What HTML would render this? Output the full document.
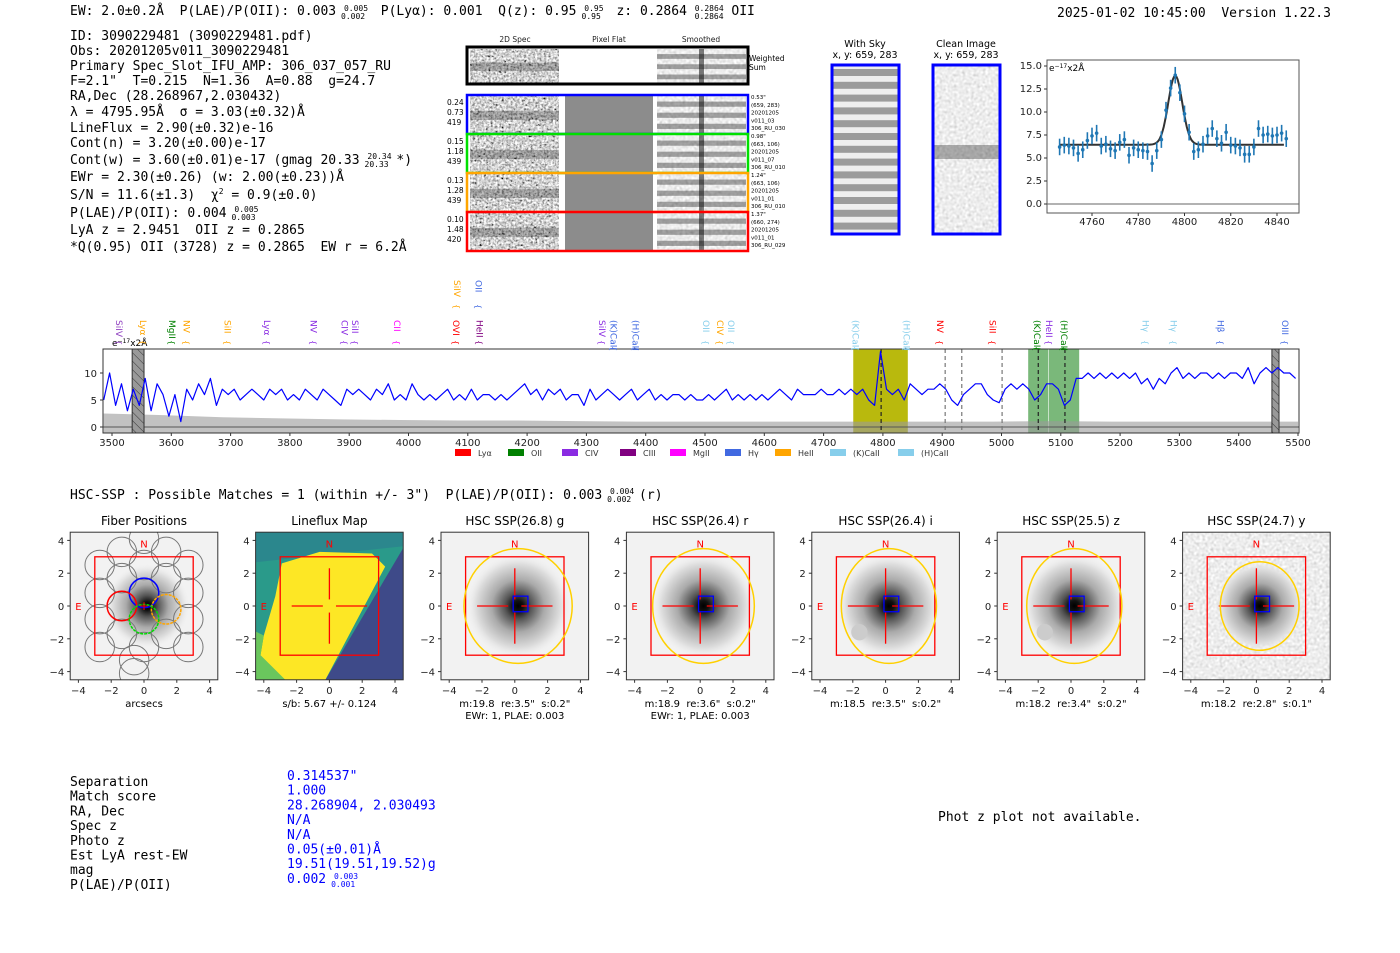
<!DOCTYPE html>
<html><head><meta charset="utf-8">
<style>
html,body{margin:0;padding:0;background:#fff;width:1400px;height:953px;overflow:hidden}
svg{display:block}
text{white-space:pre}
.mono{font-family:"DejaVu Sans Mono","Liberation Mono",monospace;font-size:13px;fill:#000}
.sans{font-family:"DejaVu Sans","Liberation Sans",sans-serif}
.tick{font-family:"DejaVu Sans","Liberation Sans",sans-serif;font-size:10px;fill:#222}
</style></head>
<body>
<svg id="root" width="1400" height="953" viewBox="0 0 1400 953" xmlns="http://www.w3.org/2000/svg" xml:space="preserve">
<defs>
<filter id="noise" x="0" y="0" width="100%" height="100%"><feTurbulence type="fractalNoise" baseFrequency="0.45" numOctaves="2" seed="3"/><feColorMatrix type="matrix" values="0.33 0.33 0.33 0 0  0.33 0.33 0.33 0 0  0.33 0.33 0.33 0 0  0 0 0 0 1"/><feComponentTransfer><feFuncR type="linear" slope="3" intercept="-0.85"/><feFuncG type="linear" slope="3" intercept="-0.85"/><feFuncB type="linear" slope="3" intercept="-0.85"/></feComponentTransfer></filter>
<filter id="noise2" x="0" y="0" width="100%" height="100%"><feTurbulence type="fractalNoise" baseFrequency="0.35" numOctaves="1" seed="7"/><feColorMatrix type="matrix" values="0.33 0.33 0.33 0 0  0.33 0.33 0.33 0 0  0.33 0.33 0.33 0 0  0 0 0 0 1"/><feComponentTransfer><feFuncR type="linear" slope="1" intercept="0.35"/><feFuncG type="linear" slope="1" intercept="0.35"/><feFuncB type="linear" slope="1" intercept="0.35"/></feComponentTransfer></filter>
<radialGradient id="blob"><stop offset="0" stop-color="#000"/><stop offset="0.1" stop-color="#111"/><stop offset="0.25" stop-color="#555"/><stop offset="0.5" stop-color="#aaa"/><stop offset="0.8" stop-color="#ddd"/><stop offset="1" stop-color="#f2f2f2" stop-opacity="0"/></radialGradient>
<pattern id="hatch" width="6" height="6" patternUnits="userSpaceOnUse" patternTransform="rotate(-45)"><rect width="6" height="6" fill="#999"/><line x1="0" y1="0" x2="0" y2="6" stroke="#333" stroke-width="1"/></pattern>
</defs>

<text class="mono" x="70" y="15">EW: 2.0±0.2Å  P(LAE)/P(OII): 0.003 <tspan font-size="8" dy="-4">0.005</tspan><tspan font-size="8" dx="-27" dy="8">0.002</tspan><tspan dy="-4">  P(Lyα): 0.001  Q(z): 0.95 </tspan><tspan font-size="8" dy="-4">0.95</tspan><tspan font-size="8" dx="-22" dy="8">0.95</tspan><tspan dy="-4">  z: 0.2864 </tspan><tspan font-size="8" dy="-4">0.2864</tspan><tspan font-size="8" dx="-29" dy="8">0.2864</tspan><tspan dy="-4"> OII</tspan></text>
<text class="mono" x="1057" y="17">2025-01-02 10:45:00  Version 1.22.3</text>

<g id="info">
<text class="mono" x="70" y="40">ID: 3090229481 (3090229481.pdf)</text>
<text class="mono" x="70" y="55">Obs: 20201205v011_3090229481</text>
<text class="mono" x="70" y="70">Primary Spec_Slot_IFU_AMP: 306_037_057_RU</text>
<text class="mono" x="70" y="85">F=2.1"  T=0.215  N=1.36  A=0.88  g=24.7</text>
<text class="mono" x="70" y="100">RA,Dec (28.268967,2.030432)</text>
<text class="mono" x="70" y="116">λ = 4795.95Å  σ = 3.03(±0.32)Å</text>
<text class="mono" x="70" y="132">LineFlux = 2.90(±0.32)e-16</text>
<text class="mono" x="70" y="147">Cont(n) = 3.20(±0.00)e-17</text>
<text class="mono" x="70" y="164">Cont(w) = 3.60(±0.01)e-17 (gmag 20.33 <tspan font-size="8" dy="-5">20.34</tspan><tspan font-size="8" dx="-27" dy="8">20.33</tspan><tspan dy="-3"> *)</tspan></text>
<text class="mono" x="70" y="181">EWr = 2.30(±0.26) (w: 2.00(±0.23))Å</text>
<text class="mono" x="70" y="199">S/N = 11.6(±1.3)  χ<tspan font-size="8" dy="-5">2</tspan><tspan dy="5"> = 0.9(±0.0)</tspan></text>
<text class="mono" x="70" y="217">P(LAE)/P(OII): 0.004 <tspan font-size="8" dy="-5">0.005</tspan><tspan font-size="8" dx="-27" dy="8">0.003</tspan></text>
<text class="mono" x="70" y="234">LyA z = 2.9451  OII z = 0.2865</text>
<text class="mono" x="70" y="251">*Q(0.95) OII (3728) z = 0.2865  EW r = 6.2Å</text>
</g>

<g id="spec2d"></g>
<g id="skycut"></g>
<g id="fit"></g>
<g id="spec"></g>

<text class="mono" x="70" y="499">HSC-SSP : Possible Matches = 1 (within +/- 3")  P(LAE)/P(OII): 0.003 <tspan font-size="8" dy="-5">0.004</tspan><tspan font-size="8" dx="-27" dy="8">0.002</tspan><tspan dy="-3"> (r)</tspan></text>

<g id="panels"></g>

<g id="table"></g>
<text class="mono" x="938" y="821">Phot z plot not available.</text>
</svg>

<script>
// ---------- data ----------
const specStart = 3486, specStep = 10;
const specFlux = [
5,10,4,8,3,7,4,9,3,8,
6,2,6,1,7,5,8,6,9,4,
7,6,7,5,6,7,6,5,7,6,
7,5,6,5,7,6,5,7,6,5,
4,7,6,7,6,5,7,6,8,5,
6,5,8,6,5,6,5,6,7,5,
6,5,7,5,6,6,5,6,5,6,
7,8,6,7,5,7,6,7,5,6,
6,4,7,5,6,7,6,5,6,7,
5,6,7,5,6,5,6,6,5,6,
5,5,6,5,6,7,5,6,5,6,
5,6,5,6,7,6,5,7,6,6,
6,7,6,6,7,6,7,6,7,5,
4,14,7,6,7,5,8,7,6,7,
7,8,7,5,4,6,7,8,8,6,
5,4.5,7,8,7,8,7,5,6,8,
8,7,4,5,9,9,10,9,10,9,
10,9,10,9,10,8,9,7,9,8,
10,11,9,10,9,10,10,9,10,9,
10,10,9,11,8,10,11,10,11,10,
10,9];
const errStart = 3486, errStep = 100;
const errFlux = [2.5,2.2,1.8,1.6,1.4,1.3,1.2,1.2,1.1,1.0,1.0,1.0,1.0,1.0,1.0,1.0,1.1,1.0,1.0,1.0,1.0];
const specXTicks = [3500,3600,3700,3800,3900,4000,4100,4200,4300,4400,4500,4600,4700,4800,4900,5000,5100,5200,5300,5400,5500];
const specYTicks = [0,5,10];
const bandLo = [4750,5045,5080];
const bandHi = [4842,5079,5131];
const bandColor = ['#b5b500','#4ea04e','#4ea04e'];
const dashWave = [4797,4905,4933,5001,5062,5107];
const dashColor = ['#222','#777','#777','#777','#222','#222'];
const lineNames = ['SiIV','Lyα','MgII','NV','SiII','Lyα','NV','CIV','SiII','CII','OVI','SiIV','OII','HeII','SiIV','(K)CaII','(H)CaII','OII','CIV','OII','(K)CaII','(H)CaII','NV','SiII','(K)CaII','HeII','(H)CaII','Hγ','Hγ','Hβ','OIII'];
const lineWave = [3512,3552,3601,3626,3695,3761,3840,3892,3910,3981,4080,4082,4118,4120,4326,4346,4383,4502,4525,4544,4754,4840,4896,4985,5060,5080,5105,5243,5290,5369,5478];
const lineColor = ['#9040c0','#ffa500','#008000','#ffa500','#ffa500','#8a2be2','#8a2be2','#8a2be2','#8a2be2','#ff00ff','#ff0000','#ffa500','#4169e1','#800080','#8a2be2','#4169e1','#4169e1','#87ceeb','#ffa500','#87ceeb','#87ceeb','#87ceeb','#ff0000','#ff0000','#008000','#8a2be2','#008000','#87ceeb','#87ceeb','#4169e1','#4169e1'];
const lineHigh = [0,0,0,0,0,0,0,0,0,0,0,1,1,0,0,0,0,0,0,0,0,0,0,0,0,0,0,0,0,0,0];
const legendNames = ['Lyα','OII','CIV','CIII','MgII','Hγ','HeII','(K)CaII','(H)CaII'];
const legendColors = ['#ff0000','#008000','#8a2be2','#800080','#ff00ff','#4169e1','#ffa500','#87ceeb','#87ceeb'];

const fitWave = [];
const fitFlux = [6.2,6.4,6.3,6.1,5.5,5.9,6.9,7.4,7.7,6.3,6.5,6.0,5.8,6.7,7.0,5.3,6.1,5.9,5.8,5.7,4.4,5.8,7.0,10.2,12.6,14.0,12.1,9.8,7.8,5.7,5.9,6.5,7.4,8.2,7.1,6.6,7.8,6.4,6.3,6.1,5.4,5.4,6.2,8.2,7.5,7.6,7.4,7.5,7.7,7.1];
for(let i=0;i<fitFlux.length;i++) fitWave.push(4746+2*i);
const fitErr = 0.9;
const fitCont = 6.45, fitAmp = 7.5, fitMu = 4796, fitSigma = 3.03;
const fitXTicks = [4760,4780,4800,4820,4840];
const fitYTicks = [0,2.5,5,7.5,10,12.5,15];

const panelTitles = ['Fiber Positions','Lineflux Map','HSC SSP(26.8) g','HSC SSP(26.4) r','HSC SSP(26.4) i','HSC SSP(25.5) z','HSC SSP(24.7) y'];
const panelLabel1 = ['arcsecs','s/b: 5.67 +/- 0.124','m:19.8  re:3.5"  s:0.2"','m:18.9  re:3.6"  s:0.2"','m:18.5  re:3.5"  s:0.2"','m:18.2  re:3.4"  s:0.2"','m:18.2  re:2.8"  s:0.1"'];
const panelLabel2 = ['','','EWr: 1, PLAE: 0.003','EWr: 1, PLAE: 0.003','','',''];
const ellRx = [0,0,3.3,3.1,2.9,2.9,2.4];
const ellRy = [0,0,3.5,3.5,3.5,3.5,2.7];
const panelTicks = [-4,-2,0,2,4];

const tableLabels = ['Separation','Match score','RA, Dec','Spec z','Photo z','Est LyA rest-EW','mag','P(LAE)/P(OII)'];
const tableValues = ['0.314537"','1.000','28.268904, 2.030493','N/A','N/A','0.05(±0.01)Å','19.51(19.51,19.52)g','0.002 '];

const NS='http://www.w3.org/2000/svg';
function mk(parent, tag, attrs, text){
  const e=document.createElementNS(NS,tag);
  for(const k in attrs) e.setAttribute(k,attrs[k]);
  if(text!==undefined) e.textContent=text;
  parent.appendChild(e); return e;
}

// ---------- 2D spectra ----------
(function(){
  const g=document.getElementById('spec2d');
  const heads=[['2D Spec',515],['Pixel Flat',609],['Smoothed',701]];
  heads.forEach(h=>{const t=mk(g,'text',{x:h[1],y:42,'font-size':7.5,'text-anchor':'middle',class:'sans',fill:'#222'},h[0]);
    
    });
  function strip(y,h,flat){
    mk(g,'rect',{x:470,y:y,width:89,height:h,fill:'#999',filter:'url(#noise)'});
    mk(g,'rect',{x:470,y:y+h*0.4,width:89,height:h*0.25,fill:'#000',opacity:0.25});
    if(flat) mk(g,'rect',{x:563,y:y,width:90,height:h,fill:'#fff'});
    else mk(g,'rect',{x:565,y:y,width:88,height:h,fill:'#8c8c8c'});
    mk(g,'rect',{x:657,y:y,width:89,height:h,fill:'#aaa',filter:'url(#noise2)'});
    for(let k=0;k<3;k++) mk(g,'rect',{x:657,y:y+h*(0.15+0.3*k),width:89,height:h*0.14,fill:'#222',opacity:0.4});
    mk(g,'rect',{x:699,y:y,width:5,height:h,fill:'#000',opacity:0.5});
  }
  strip(49,34,true);
  const wb=mk(g,'rect',{x:467,y:47,width:281,height:37,fill:'none',stroke:'#000','stroke-width':3});
  
  
  mk(g,'text',{x:749,y:61,'font-size':7.5,class:'sans'},'Weighted');
  mk(g,'text',{x:749,y:70,'font-size':7.5,class:'sans'},'Sum');
  const cols=['#0000ff','#00e000','#ffa500','#ff0000'];
  const ys=[95,134,173,212];
  const lt=[['0.24','0.73','419'],['0.15','1.18','439'],['0.13','1.28','439'],['0.10','1.48','420']];
  const rt=[['0.53"','(659, 283)','20201205','v011_03','306_RU_030'],['0.98"','(663, 106)','20201205','v011_07','306_RU_010'],['1.24"','(663, 106)','20201205','v011_01','306_RU_010'],['1.37"','(660, 274)','20201205','v011_01','306_RU_029']];
  ys.forEach((y,i)=>{
    strip(y+1,37,false);
    const b=mk(g,'rect',{x:467,y:y,width:281,height:39,fill:'none',stroke:cols[i],'stroke-width':2.5});
    
    
    lt[i].forEach((s,j)=>mk(g,'text',{x:447,y:y+10+j*10,'font-size':7.5,class:'sans'},s));
    rt[i].forEach((s,j)=>mk(g,'text',{x:751,y:y+4+j*7.8,'font-size':5.5,class:'sans'},s));
  });
})();

// ---------- sky cutouts ----------
(function(){
  const g=document.getElementById('skycut');
  mk(g,'text',{x:865,y:47,'font-size':9.5,class:'sans','text-anchor':'middle'},'With Sky');
  mk(g,'text',{x:865,y:58,'font-size':9.5,class:'sans','text-anchor':'middle'},'x, y: 659, 283');
  mk(g,'text',{x:966,y:47,'font-size':9.5,class:'sans','text-anchor':'middle'},'Clean Image');
  mk(g,'text',{x:966,y:58,'font-size':9.5,class:'sans','text-anchor':'middle'},'x, y: 659, 283');
  mk(g,'rect',{x:832,y:65,width:67,height:169,fill:'#eee'});
  for(let k=0;k<13;k++) mk(g,'rect',{x:832,y:69+k*12.8,width:67,height:7,fill:'#777',opacity:0.7});
  mk(g,'rect',{x:933,y:65,width:67,height:169,fill:'#bbb',filter:'url(#noise2)'});
  mk(g,'rect',{x:933,y:145,width:67,height:14,fill:'#222',opacity:0.35});
  const a=mk(g,'rect',{x:832,y:65,width:67,height:169,fill:'none',stroke:'#0000ff','stroke-width':3});
  
  
  const b=mk(g,'rect',{x:933,y:65,width:67,height:169,fill:'none',stroke:'#0000ff','stroke-width':3});
  
  
})();

// ---------- fit inset ----------
(function(){
  const g=document.getElementById('fit');
  const L=1047,R=1299,T=60,B=213;
  const X=w=>1092+(w-4760)*(1277-1092)/80;
  const Y=v=>204-v*(204-66)/15;
  mk(g,'rect',{x:L,y:T,width:R-L,height:B-T,fill:'#fff',stroke:'#555','stroke-width':1});
  mk(g,'line',{x1:L,x2:R,y1:Y(0),y2:Y(0),stroke:'#666','stroke-width':1});
  fitXTicks.forEach(t=>{mk(g,'line',{x1:X(t),x2:X(t),y1:B,y2:B+3,stroke:'#333'});
    const e=mk(g,'text',{x:X(t),y:B+12,class:'tick','text-anchor':'middle','font-size':9},String(t));
    
    });
  fitYTicks.forEach(t=>{mk(g,'line',{x1:L-3,x2:L,y1:Y(t),y2:Y(t),stroke:'#333'});
    const e=mk(g,'text',{x:L-5,y:Y(t)+3,class:'tick','text-anchor':'end','font-size':9},t.toFixed(1));
    
    });
  let d='';
  for(let w=4746;w<=4843;w+=0.5){const v=fitCont+fitAmp*Math.exp(-0.5*Math.pow((w-fitMu)/fitSigma,2));d+=(d?'L':'M')+X(w).toFixed(1)+' '+Y(v).toFixed(1);}
  const fl=mk(g,'path',{d:d,fill:'none',stroke:'#333','stroke-width':2});
  
  
  fitWave.forEach((w,i)=>{
    const ln=mk(g,'line',{x1:X(w),x2:X(w),y1:Y(fitFlux[i]-fitErr),y2:Y(fitFlux[i]+fitErr),stroke:'#1f77b4','stroke-width':1.6});
    
    
    const c=mk(g,'circle',{cx:X(w),cy:Y(fitFlux[i]),r:1.8,fill:'#1f77b4'});
    
    
  });
  const u=mk(g,'text',{x:L+2,y:T+11,'font-size':9,class:'sans'},'e');
  mk(u,'tspan',{'font-size':6,dy:-3},'−17');
  mk(u,'tspan',{dy:3},'x2Å');
})();

// ---------- main spectrum ----------
(function(){
  const g=document.getElementById('spec');
  const L=103,R=1299,T=349,B=433;
  const X=w=>112+(w-3500)*(1298-112)/2000;
  const Y=v=>427-v*5.4;
  mk(g,'rect',{x:L,y:T,width:R-L,height:B-T,fill:'#fff'});
  bandLo.forEach((lo,i)=>{const r=mk(g,'rect',{x:X(lo),y:T,width:X(bandHi[i])-X(lo),height:B-T,fill:bandColor[i],opacity:i?0.75:0.95});
    
    });
  let d='M'+X(errStart).toFixed(1)+' '+Y(0);
  errFlux.forEach((v,i)=>{d+='L'+X(errStart+i*errStep).toFixed(1)+' '+Y(v).toFixed(1);});
  d+='L'+X(5500)+' '+Y(1)+'L'+X(5500)+' '+B+'L'+X(errStart)+' '+B+'Z';
  const ef=mk(g,'path',{d:d,fill:'#999',opacity:0.6});
  
  
  mk(g,'line',{x1:L,x2:R,y1:Y(0),y2:Y(0),stroke:'#555','stroke-width':1});
  [[3534,3554],[5456,5468]].forEach(p=>{const r=mk(g,'rect',{x:X(p[0]),y:T,width:X(p[1])-X(p[0]),height:B-T,fill:'url(#hatch)',stroke:'#333'});
    
    });
  dashWave.forEach((w,i)=>{const l=mk(g,'line',{x1:X(w),x2:X(w),y1:T,y2:B,stroke:dashColor[i],'stroke-width':1.2,'stroke-dasharray':'4,3'});
    
    });
  let p='';
  specFlux.forEach((v,i)=>{p+=(p?'L':'M')+X(specStart+i*specStep).toFixed(1)+' '+Y(v).toFixed(1);});
  const sl=mk(g,'path',{d:p,fill:'none',stroke:'#0000ff','stroke-width':1.2,'stroke-linejoin':'round'});
  
  
  mk(g,'rect',{x:L,y:T,width:R-L,height:B-T,fill:'none',stroke:'#333','stroke-width':1});
  specXTicks.forEach(t=>{mk(g,'line',{x1:X(t),x2:X(t),y1:B,y2:B+3,stroke:'#333'});
    const e=mk(g,'text',{x:X(t),y:B+13,class:'tick','text-anchor':'middle'},String(t));
    
    });
  specYTicks.forEach(t=>{mk(g,'line',{x1:L-3,x2:L,y1:Y(t),y2:Y(t),stroke:'#333'});
    const e=mk(g,'text',{x:L-6,y:Y(t)+4,class:'tick','text-anchor':'end'},String(t));
    
    });
  const u=mk(g,'text',{x:112,y:346,'font-size':9,class:'sans'},'e');
  mk(u,'tspan',{'font-size':6,dy:-3},'−17');
  mk(u,'tspan',{dy:3},'x2Å');
  lineNames.forEach((n,i)=>{
    const x=X(lineWave[i]);
    const top=lineHigh[i]?280:320;
    const t=mk(g,'text',{x:0,y:0,'font-size':9,class:'sans',fill:lineColor[i],transform:'translate('+(x-3)+','+top+') rotate(90)'},n);
    
    
    mk(g,'text',{x:0,y:0,'font-size':8,class:'sans',fill:lineColor[i],transform:'translate('+(x-3)+','+(top+(lineHigh[i]?24:20)+(n.length>5?6:0))+') rotate(90)'},'{');
  });
  let lx=455;
  const gaps=[53,54,58,50,55,50,55,68,0];
  legendNames.forEach((n,i)=>{
    const r=mk(g,'rect',{x:lx,y:449,width:16,height:7,fill:legendColors[i]});
    
    
    const t=mk(g,'text',{x:lx+23,y:456,'font-size':8,class:'sans',fill:'#333'},n);
    
    
    lx+=gaps[i];
  });
})();

// ---------- imaging panels ----------
(function(){
  const g=document.getElementById('panels');
  const s=16.4, cy=606;
  panelTitles.forEach((title,i)=>{
    const cx=144+i*185.4;
    const L=cx-4.5*s, T=cy-4.5*s, W=9*s;
    const pg=mk(g,'g',{});
    
    
    const clipId='clip'+i;
    const cp=mk(pg,'clipPath',{id:clipId}); mk(cp,'rect',{x:L,y:T,width:W,height:W});
    const ig=mk(pg,'g',{'clip-path':'url(#'+clipId+')'});
    if(i===1){
      mk(ig,'rect',{x:L,y:T,width:W,height:W,fill:'#2a9a8a'});
      mk(ig,'polygon',{points:[[L,T],[L+W,T],[L+W,T+14],[L,T+30]].map(p=>p.join(',')).join(' '),fill:'#2c7f8e',opacity:0.7});
      const P=(u,v)=>(cx+u*s).toFixed(1)+','+(cy-v*s).toFixed(1);
      mk(ig,'polygon',{points:[P(-4,-1.8),P(-3.3,0.6),P(-2.9,2.6),P(-0.6,3.3),P(2.6,3.2),P(3.4,2.4),P(-0.3,-4.6),P(-2.6,-4.6),P(-4.2,-3)].join(' '),fill:'#fde725'});
      mk(ig,'polygon',{points:[P(-4.6,-1.5),P(-4,-1.8),P(-4.2,-3),P(-2.6,-4.6),P(-4.6,-4.6)].join(' '),fill:'#7ad151',opacity:0.8});
      mk(ig,'polygon',{points:[P(4.6,3.7),P(4.6,-4.6),P(-0.3,-4.6)].join(' '),fill:'#3e4a89'});
    } else {
      mk(ig,'rect',{x:L,y:T,width:W,height:W,fill:i===6?'#d8d8d8':'#f2f2f2',filter:i===6?'url(#noise2)':''});
      const rr=i===0?2.6:(i===6?2.8:3.2);
      mk(ig,'circle',{cx:cx+0.2*s,cy:cy,r:rr*s,fill:'url(#blob)'});
      if(i===4||i===5) mk(ig,'circle',{cx:cx-1.6*s,cy:cy+1.6*s,r:0.5*s,fill:'#ccc'});
    }
    if(i===0){
      const fib=[[0,4.1],[-1.35,3.3],[1.35,3.3],[-2.7,2.5],[0,2.5],[2.7,2.5],[-1.35,1.7],[1.35,1.7],[-2.7,0.8],[2.7,0.8],[-2.7,-0.8],[2.7,-0.8],[-1.35,-1.7],[1.35,-1.7],[0,-2.5],[-2.7,-2.5],[2.7,-2.5],[-0.6,-3.3],[-0.6,-4.1]];
      fib.forEach(f=>mk(ig,'circle',{cx:cx+f[0]*s,cy:cy-f[1]*s,r:0.9*s,fill:'none',stroke:'#777','stroke-width':1}));
      [[0,0.8,'#0000ff'],[-1.35,0,'#ff0000'],[1.35,-0.2,'#ffa500'],[0,-0.8,'#00dd00']].forEach(f=>mk(ig,'circle',{cx:cx+f[0]*s,cy:cy-f[1]*s,r:0.9*s,fill:'none',stroke:f[2],'stroke-width':1.5,'stroke-dasharray':f[2]==='#0000ff'||f[2]==='#ff0000'?'':'3,1'}));
      mk(ig,'text',{x:cx,y:cy+4,'font-size':12,fill:'#f00','text-anchor':'middle',class:'sans'},'+');
    }
    mk(pg,'rect',{x:cx-3*s,y:cy-3*s,width:6*s,height:6*s,fill:'none',stroke:'#ff0000','stroke-width':1.3});
    if(i>=1){
      mk(pg,'line',{x1:cx,x2:cx,y1:cy-2.3*s,y2:cy-0.4*s,stroke:'#f00','stroke-width':1.3});
      mk(pg,'line',{x1:cx,x2:cx,y1:cy+0.4*s,y2:cy+2.3*s,stroke:'#f00','stroke-width':1.3});
      mk(pg,'line',{x1:cx-2.3*s,x2:cx-0.4*s,y1:cy,y2:cy,stroke:'#f00','stroke-width':1.3});
      mk(pg,'line',{x1:cx+0.4*s,x2:cx+2.3*s,y1:cy,y2:cy,stroke:'#f00','stroke-width':1.3});
    }
    if(i>=2){
      mk(pg,'rect',{x:cx-0.1*s,y:cy-0.6*s,width:0.9*s,height:0.95*s,fill:'none',stroke:'#0000ff','stroke-width':1.3});
      const el=mk(pg,'ellipse',{cx:cx+0.2*s,cy:cy,rx:ellRx[i]*s,ry:ellRy[i]*s,fill:'none',stroke:'#ffd000','stroke-width':1.5});
      
      
    }
    mk(pg,'text',{x:cx,y:cy-3.8*s+4,'font-size':10,fill:'#f00','text-anchor':'middle',class:'sans'},'N');
    mk(pg,'text',{x:cx-4*s,y:cy+4,'font-size':10,fill:'#f00','text-anchor':'middle',class:'sans'},'E');
    mk(pg,'rect',{x:L,y:T,width:W,height:W,fill:'none',stroke:'#333','stroke-width':1});
    panelTicks.forEach(t=>{
      mk(pg,'line',{x1:cx+t*s,x2:cx+t*s,y1:T+W,y2:T+W+3,stroke:'#333'});
      mk(pg,'text',{x:cx+t*s,y:T+W+14,class:'tick','text-anchor':'middle'},t<0?'−'+(-t):String(t));
      mk(pg,'line',{x1:L-3,x2:L,y1:cy-t*s,y2:cy-t*s,stroke:'#333'});
      mk(pg,'text',{x:L-6,y:cy-t*s+4,class:'tick','text-anchor':'end'},t<0?'−'+(-t):String(t));
    });
    const tt=mk(pg,'text',{x:cx,y:525,'font-size':12,class:'sans','text-anchor':'middle'},title);
    
    
    mk(pg,'text',{x:cx,y:707,'font-size':10,class:'sans','text-anchor':'middle'},panelLabel1[i]);
    if(panelLabel2[i]) mk(pg,'text',{x:cx,y:719,'font-size':10,class:'sans','text-anchor':'middle'},panelLabel2[i]);
  });
})();

// ---------- table ----------
(function(){
  const g=document.getElementById('table');
  tableLabels.forEach((l,i)=>{
    const y=786+i*14.7;
    const a=mk(g,'text',{x:70,y:y,class:'mono'},l);
    
    
    const b=mk(g,'text',{x:287,y:y-6,class:'mono',style:'fill:#0000ff'},tableValues[i]);
    
    
    if(i===7){
      mk(b,'tspan',{'font-size':8,dy:-4},'0.003');
      mk(b,'tspan',{'font-size':8,dx:-27,dy:8},'0.001');
    }
  });
})();
</script>
</body></html>
